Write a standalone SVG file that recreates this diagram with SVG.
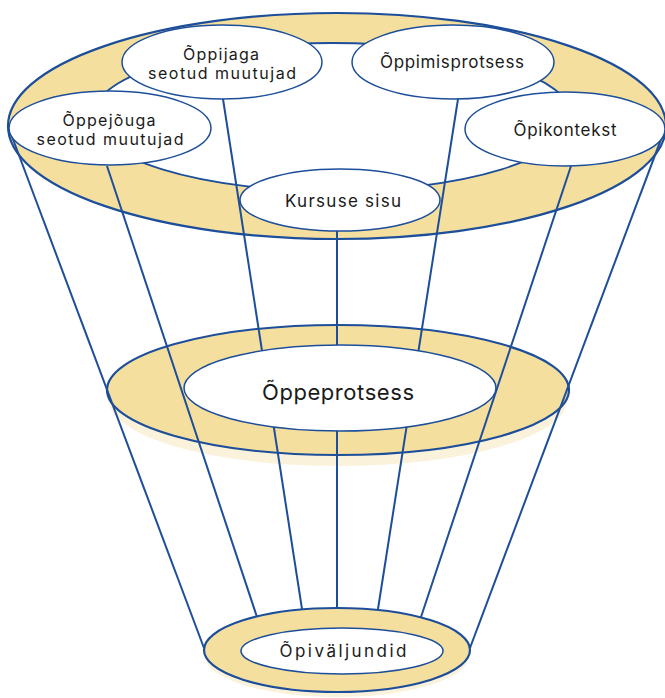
<svg xmlns="http://www.w3.org/2000/svg" width="665" height="698" viewBox="0 0 665 698">
<style>
.band{fill:#F5DF9F;stroke:#1D4E9A;stroke-width:2.2}
.hole{fill:#FFFFFF;stroke:#1D4E9A;stroke-width:1.8}
.node{fill:#FFFFFF;stroke:#1D4E9A;stroke-width:1.5}
.shadow{fill:#FBF2DC}
.conn line{stroke:#1D4E9A;stroke-width:2;fill:none}
text{font-family:Inter,"Noto Sans","Liberation Sans",sans-serif;fill:#1a1a1a;text-anchor:middle}
.s{font-size:17px}
.t{font-size:16px}
.l{font-size:22px}
</style>
<rect width="665" height="698" fill="#FFFFFF"/>
<g id="top-ring">
<ellipse class="band" cx="337" cy="126" rx="329" ry="113"/>
<ellipse class="hole" cx="332" cy="117" rx="240" ry="74"/>
</g>
<g id="middle-ring">
<ellipse class="shadow" cx="338" cy="400" rx="229" ry="66"/>
<ellipse class="band" cx="338" cy="390" rx="231" ry="65"/>
</g>
<g id="connectors" class="conn">
<line x1="223" y1="99" x2="302" y2="609"/>
<line x1="458" y1="99" x2="378" y2="609"/>
<line x1="337" y1="231" x2="337" y2="609"/>
<line x1="107" y1="166" x2="257" y2="617"/>
<line x1="571" y1="166" x2="421" y2="617"/>
<line x1="8" y1="126" x2="204" y2="648"/>
<line x1="666" y1="126" x2="470" y2="648"/>
</g>
<g id="oppijaga">
<ellipse class="node" cx="222" cy="62" rx="100" ry="37"/>
<text class="t" x="221" y="60" textLength="76" lengthAdjust="spacing">Õppijaga</text>
<text class="t" x="222" y="79" textLength="148" lengthAdjust="spacing">seotud muutujad</text>
</g>
<g id="oppejouga">
<ellipse class="node" cx="110" cy="128" rx="101" ry="37"/>
<text class="t" x="109" y="126" textLength="93" lengthAdjust="spacing">Õppejõuga</text>
<text class="t" x="110" y="145" textLength="147" lengthAdjust="spacing">seotud muutujad</text>
</g>
<g id="oppimisprotsess">
<ellipse class="node" cx="453" cy="62" rx="101" ry="37"/>
<text class="s" x="452" y="68" textLength="144" lengthAdjust="spacing">Õppimisprotsess</text>
</g>
<g id="opikontekst">
<ellipse class="node" cx="565" cy="129" rx="100" ry="37"/>
<text class="s" x="565" y="136" textLength="103" lengthAdjust="spacing">Õpikontekst</text>
</g>
<g id="kursuse-sisu">
<ellipse class="node" cx="340" cy="200" rx="100" ry="31"/>
<text class="s" x="343" y="207" textLength="116" lengthAdjust="spacing">Kursuse sisu</text>
</g>
<g id="oppeprotsess">
<ellipse class="node" cx="340" cy="388" rx="156" ry="43"/>
<text class="l" x="338" y="400" textLength="152" lengthAdjust="spacing">Õppeprotsess</text>
</g>
<g id="opivaljundid">
<ellipse class="shadow" cx="337" cy="656" rx="132" ry="41"/>
<ellipse class="band" cx="337" cy="650" rx="133" ry="42"/>
<ellipse class="node" cx="342" cy="651" rx="101" ry="23"/>
<text class="s" x="343" y="657" textLength="127" lengthAdjust="spacing">Õpiväljundid</text>
</g>
</svg>
